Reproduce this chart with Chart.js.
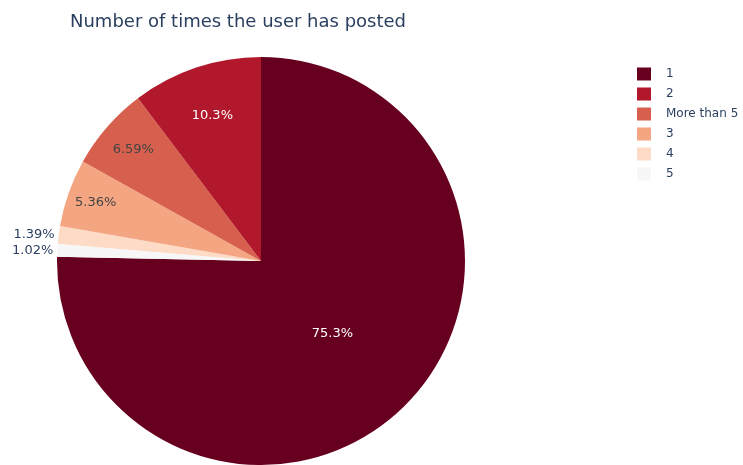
<!DOCTYPE html>
<html>
<head>
<meta charset="utf-8">
<script src="https://cdn.jsdelivr.net/npm/chart.js@4"></script>
<style>
  html, body { margin: 0; padding: 0; background: #ffffff; }
  #wrap { width: 743px; height: 465px; position: relative; }
</style>
</head>
<body>
<div id="wrap"><canvas id="c" width="743" height="465"></canvas></div>
<script>
// Data (clockwise from 12 o'clock, as drawn)
const categories = ['1', '5', '4', '3', 'More than 5', '2'];
const values = [75.3, 1.02, 1.39, 5.36, 6.59, 10.3];
const legendOrder = ['1', '2', 'More than 5', '3', '4', '5'];
const titleText = 'Number of times the user has posted';

// Styles
const sliceColors = {
  '1': '#67001f', '2': '#b2182b', 'More than 5': '#d6604d',
  '3': '#f4a582', '4': '#fddbc7', '5': '#f7f7f7'
};
const labelColors = {
  '1': '#ffffff', '2': '#ffffff', 'More than 5': '#444444',
  '3': '#444444', '4': '#2a3f5f', '5': '#2a3f5f'
};
// radial placement of inside labels (fraction of radius); null = outside
const labelRadius = { '1': 0.5, '2': 0.75, 'More than 5': 0.83, '3': 0.86, '4': null, '5': null };
const FONT = '"DejaVu Sans", Verdana, sans-serif';
const TEXT_DARK = '#2a3f5f';

const overlay = {
  id: 'overlay',
  afterDatasetsDraw(chart) {
    const ctx = chart.ctx;
    const meta = chart.getDatasetMeta(0);
    const total = values.reduce((a, b) => a + b, 0);
    ctx.save();
    ctx.font = '13px ' + FONT;
    meta.data.forEach((arc, i) => {
      const cat = categories[i];
      const p = arc.getProps(['x', 'y', 'startAngle', 'endAngle', 'outerRadius'], true);
      const mid = (p.startAngle + p.endAngle) / 2;
      const dx = Math.cos(mid), dy = Math.sin(mid);
      const txt = (values[i] / total * 100).toPrecision(3) + '%';
      ctx.fillStyle = labelColors[cat];
      ctx.textBaseline = 'middle';
      if (labelRadius[cat] !== null) {
        const r = p.outerRadius * labelRadius[cat];
        ctx.textAlign = 'center';
        ctx.fillText(txt, p.x + dx * r, p.y + dy * r);
      } else {
        ctx.textAlign = 'right';
        ctx.fillText(txt, p.x + dx * (p.outerRadius + 4), p.y + dy * p.outerRadius);
      }
    });
    ctx.restore();
  },
  afterDraw(chart) {
    const ctx = chart.ctx;
    ctx.save();
    // title
    ctx.font = '18px ' + FONT;
    ctx.fillStyle = TEXT_DARK;
    ctx.textAlign = 'left';
    ctx.textBaseline = 'alphabetic';
    ctx.fillText(titleText, 70, 27);
    // legend
    ctx.font = '12px ' + FONT;
    ctx.textBaseline = 'middle';
    legendOrder.forEach((cat, k) => {
      const y = 74 + k * 20;
      ctx.fillStyle = sliceColors[cat];
      ctx.fillRect(637, y - 6.5, 14, 13);
      ctx.fillStyle = TEXT_DARK;
      ctx.fillText(cat, 666, y);
    });
    ctx.restore();
  }
};

new Chart(document.getElementById('c'), {
  type: 'pie',
  data: {
    labels: categories,
    datasets: [{
      data: values,
      backgroundColor: categories.map(c => sliceColors[c]),
      borderWidth: 0
    }]
  },
  options: {
    responsive: false,
    devicePixelRatio: 1,
    animation: false,
    events: [],
    layout: { padding: { left: 57, top: 57, right: 278, bottom: 0 } },
    plugins: { legend: { display: false }, title: { display: false }, tooltip: { enabled: false } }
  },
  plugins: [overlay]
});
</script>
</body>
</html>
